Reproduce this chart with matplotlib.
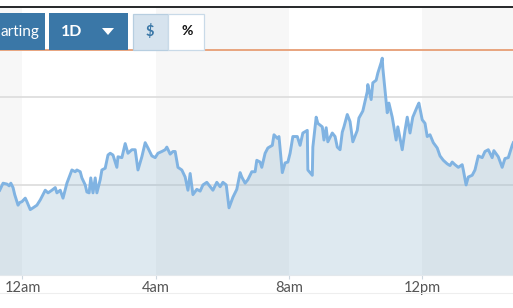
import matplotlib
matplotlib.use('Agg')
import matplotlib.pyplot as plt
from matplotlib.patches import Rectangle, Polygon

# time in minutes from midnight, price values
minutes = [-41, -35, -28, -24, -21, -17, -14, -8, -5, -1, 5, 8, 14, 19, 26, 32, 41, 46, 53, 59,
           62, 68, 73, 80, 89, 95, 98, 104, 107, 113, 116, 120, 123, 127, 131, 134, 140, 143, 149, 154,
           158, 163, 170, 172, 179, 185, 190, 197, 203, 208, 215, 221, 226, 233, 239, 244, 251, 257, 260, 266,
           271, 275, 280, 287, 293, 298, 302, 307, 314, 320, 325, 332, 338, 343, 350, 356, 361, 367, 372, 379,
           386, 392, 395, 401, 406, 413, 419, 422, 428, 431, 437, 442, 450, 453, 459, 462, 468, 473, 478, 482,
           487, 495, 500, 505, 513, 514, 522, 523, 529, 532, 540, 543, 547, 550, 558, 563, 567, 572, 576, 579,
           585, 590, 595, 603, 606, 613, 621, 622, 628, 631, 637, 640, 646, 648, 649, 653, 657, 660, 666, 669,
           673, 676, 684, 689, 693, 698, 703, 711, 714, 720, 725, 729, 734, 740, 747, 752, 758, 765, 770, 774,
           779, 785, 792, 794, 799, 803, 810, 815, 821, 828, 833, 839, 846, 849, 857, 864, 869, 875, 882, 884]
prices = [9394, 9402, 9401, 9399, 9402, 9397, 9389, 9377, 9380, 9381, 9385, 9381, 9372, 9374, 9377, 9383, 9394, 9391, 9394, 9397,
          9391, 9394, 9385, 9402, 9417, 9415, 9417, 9415, 9408, 9400, 9392, 9391, 9408, 9391, 9408, 9391, 9406, 9417, 9419, 9434,
          9436, 9434, 9420, 9432, 9431, 9447, 9436, 9440, 9440, 9417, 9432, 9448, 9442, 9433, 9431, 9436, 9438, 9440, 9443, 9435,
          9438, 9438, 9420, 9417, 9409, 9394, 9413, 9389, 9395, 9393, 9400, 9403, 9398, 9394, 9403, 9398, 9403, 9400, 9374, 9386,
          9395, 9414, 9409, 9402, 9406, 9415, 9415, 9428, 9426, 9420, 9436, 9442, 9445, 9457, 9453, 9455, 9414, 9425, 9426, 9436,
          9455, 9455, 9445, 9459, 9462, 9417, 9411, 9443, 9477, 9470, 9466, 9451, 9465, 9449, 9459, 9455, 9443, 9440, 9460, 9466,
          9480, 9472, 9449, 9462, 9476, 9484, 9506, 9514, 9497, 9516, 9519, 9527, 9539, 9544, 9533, 9508, 9482, 9493, 9477, 9466,
          9451, 9466, 9440, 9462, 9477, 9459, 9477, 9489, 9493, 9474, 9470, 9455, 9457, 9448, 9442, 9433, 9428, 9424, 9422, 9426,
          9423, 9420, 9423, 9417, 9400, 9409, 9411, 9417, 9433, 9431, 9438, 9440, 9431, 9439, 9432, 9420, 9430, 9431, 9445, 9448]
tick_minutes = [0, 240, 480, 720]
tick_labels = ['12am', '4am', '8am', '12pm']
grid_prices = [9400, 9500]
ref_price = 9553
band_edges = [-120, 0, 240, 480, 720, 960]
range_label = '1D'

W, H = 513, 308
fig = plt.figure(figsize=(W / 100, H / 100), dpi=100)
fig.patch.set_facecolor('white')

ymin, ymax = 9297.7, 9601
ax = fig.add_axes([0, 33 / H, 1, 267 / H])
ax.set_xlim(-40.5, 883.5)
ax.set_ylim(ymin, ymax)
for i in range(len(band_edges) - 1):
    ax.axvspan(band_edges[i], band_edges[i + 1], color='#f7f7f7' if i % 2 == 0 else 'white', lw=0, zorder=0)
for g in grid_prices:
    ax.axhline(g, color='#dcdcdc', lw=1.2, zorder=1)
ax.fill_between(minutes, prices, ymin, color=(128 / 255, 170 / 255, 200 / 255), alpha=0.26, lw=0, zorder=2)
ax.plot(minutes, prices, color='#80b3e2', lw=2.1, zorder=3, solid_joinstyle='round')
ax.axhline(ref_price, color='#e8a47e', lw=1.4, zorder=4)
for s in ['top', 'left', 'right']:
    ax.spines[s].set_visible(False)
ax.spines['bottom'].set_color('#e3e8ec')
ax.spines['bottom'].set_linewidth(0.8)
ax.set_yticks([])
ax.set_xticks(tick_minutes, tick_labels)
ax.tick_params(axis='x', length=3, width=0.8, color='#cdd7df', labelcolor='#555555', labelsize=10.5, pad=1.5)
for lab in ax.get_xticklabels():
    lab.set_fontfamily('Lato')

# header overlay
ov = fig.add_axes([0, 0, 1, 1])
ov.set_xlim(0, W)
ov.set_ylim(H, 0)
ov.axis('off')
ov.patch.set_alpha(0)
ov.add_patch(Rectangle((0, 5.5), W, 2.2, color='#2a2c2e', lw=0))
ov.add_patch(Rectangle((-5, 13), 50, 36.5, color='#3a77a7', lw=0))
ov.add_patch(Rectangle((49, 13), 79, 36.5, color='#3a77a7', lw=0))
ov.add_patch(Rectangle((132.5, 13.5), 35, 36, facecolor='#d6e3ee', edgecolor='#b7cee0', lw=0.9))
ov.add_patch(Rectangle((168, 13.5), 36, 36, facecolor='white', edgecolor='#c9dae8', lw=0.9))
ov.add_patch(Polygon([(102, 28), (114, 28), (108, 35)], closed=True, color='white', lw=0))
ov.text(0.5, 32, 'arting', color='white', fontsize=11, family='Lato', ha='left', va='center')
ov.text(72, 32, range_label, color='white', fontsize=11.5, family='Lato', fontweight='bold', ha='center', va='center')
ov.text(150, 31, '$', color='#3a77a7', fontsize=10.5, family='Lato', fontweight='bold', ha='center', va='center')
ov.text(187, 31, '%', color='#111111', fontsize=10, family='Lato', fontweight='bold', ha='center', va='center')
ov.plot([0, W], [293, 293], color='#eeeeee', lw=0.8)

fig.savefig('out.png', dpi=100, facecolor='white')
